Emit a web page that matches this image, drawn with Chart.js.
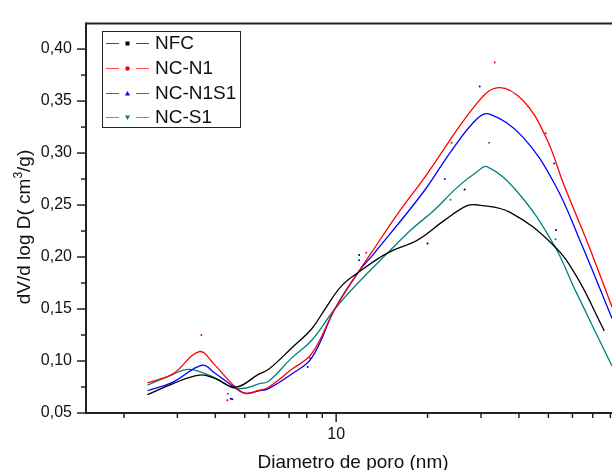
<!DOCTYPE html>
<html><head><meta charset="utf-8">
<script src="https://cdn.jsdelivr.net/npm/chart.js@4/dist/chart.umd.min.js"></script>
<style>html,body{margin:0;padding:0;background:#fff;overflow:hidden}#wrap{width:616px;height:470px;position:relative}</style>
</head><body><div id="wrap"><canvas id="c" width="616" height="470"></canvas></div>
<script>
// ---- data (pore diameter in nm, dV/dlogD in cm3/g) ----
const seriesNames = ['NFC', 'NC-N1', 'NC-N1S1', 'NC-S1'];
const seriesColors = ['#000000', '#ff0000', '#0000ff', '#008080'];

const nfcX = [2.39, 2.89, 3.54, 4.0, 4.67, 5.56, 5.99, 7.14, 8.31, 9.19, 10.40, 11.80, 14.79, 18.53, 22.66, 27.0, 29.49, 37.4, 51.84, 61.78, 76.4];
const nfcY = [0.0676, 0.078, 0.0865, 0.083, 0.0748, 0.0874, 0.092, 0.1126, 0.131, 0.150, 0.172, 0.185, 0.204, 0.2163, 0.235, 0.2494, 0.250, 0.243, 0.2116, 0.1818, 0.129];

const n1X = [2.39, 2.89, 3.54, 3.96, 4.54, 5.01, 5.56, 5.99, 7.14, 8.31, 9.90, 11.80, 13.05, 15.94, 19.49, 29.11, 34.28, 41.4, 49.3, 56.15, 67.45, 81.0];
const n1Y = [0.079, 0.0874, 0.109, 0.097, 0.078, 0.069, 0.0717, 0.0748, 0.092, 0.107, 0.150, 0.185, 0.204, 0.2415, 0.276, 0.348, 0.363, 0.350, 0.314, 0.270, 0.213, 0.152];

const n1s1X = [2.39, 2.89, 3.62, 3.96, 4.54, 5.01, 5.56, 5.99, 7.14, 8.31, 9.90, 11.80, 13.38, 19.49, 23.81, 29.11, 32.04, 41.0, 52.48, 64.15, 81.0];
const n1s1Y = [0.0714, 0.0795, 0.096, 0.089, 0.0764, 0.069, 0.0712, 0.0735, 0.0875, 0.103, 0.150, 0.185, 0.204, 0.2635, 0.301, 0.333, 0.3375, 0.316, 0.270, 0.213, 0.141];

const s1X = [2.39, 2.89, 3.28, 3.96, 4.54, 5.0, 5.56, 5.99, 7.14, 8.31, 9.90, 11.80, 14.79, 17.62, 21.02, 25.04, 29.11, 31.39, 39.3, 51.84, 61.78, 81.0];
const s1Y = [0.0767, 0.087, 0.092, 0.0843, 0.0745, 0.0738, 0.078, 0.0805, 0.103, 0.120, 0.150, 0.175, 0.204, 0.226, 0.245, 0.267, 0.282, 0.287, 0.2635, 0.213, 0.166, 0.0953];

// raw measurement dots (faint)
const nfcDotX = [4.5, 11.9, 20.0, 26.5, 53.0];
const nfcDotY = [0.0638, 0.202, 0.213, 0.265, 0.226];
const n1DotX = [3.6, 4.38, 8.2, 12.56, 24.0, 33.3, 49.0];
const n1DotY = [0.125, 0.0623, 0.103, 0.204, 0.310, 0.387, 0.319];
const n1s1DotX = [4.55, 8.06, 11.9, 22.8, 29.7, 52.2];
const n1s1DotY = [0.0632, 0.0943, 0.197, 0.275, 0.364, 0.290];
const s1DotX = [4.4, 23.8, 31.9, 52.8];
const s1DotY = [0.0686, 0.255, 0.310, 0.217];

const yMajorTicks = [0.05, 0.10, 0.15, 0.20, 0.25, 0.30, 0.35, 0.40];
const yMinorTicks = [0.075, 0.125, 0.175, 0.225, 0.275, 0.325, 0.375];
const xMajorTicks = [10];
const xMinorTicks = [2, 3, 4, 5, 6, 7, 8, 9, 20, 30, 40, 50, 60, 70, 80];

const xTitle = 'Diametro de poro (nm)';
const yTitleParts = ['dV/d log D( cm', '3', '/g)'];

const curves = [[nfcX, nfcY], [n1X, n1Y], [n1s1X, n1s1Y], [s1X, s1Y]];
const dots = [[nfcDotX, nfcDotY], [n1DotX, n1DotY], [n1s1DotX, n1s1DotY], [s1DotX, s1DotY]];
const zip = (xs, ys) => xs.map((x, i) => ({x, y: ys[i]}));

const datasets = [];
curves.forEach((c, i) => datasets.push({
  type: 'line', label: seriesNames[i], data: zip(c[0], c[1]),
  borderColor: seriesColors[i], borderWidth: 1.3, pointRadius: 0,
  tension: 0.4, fill: false
}));
dots.forEach((d, i) => datasets.push({
  type: 'scatter', label: seriesNames[i] + ' pts', data: zip(d[0], d[1]),
  backgroundColor: seriesColors[i], borderWidth: 0, pointRadius: 1, showLine: false
}));

const FONT = '"Liberation Sans", Arial, sans-serif';
const AX = '#222222';

const decor = {
  id: 'decor',
  afterDraw(chart) {
    const ctx = chart.ctx, a = chart.chartArea, xs = chart.scales.x, ys = chart.scales.y;
    ctx.save();
    ctx.strokeStyle = AX;
    const seg = (x1, y1, x2, y2) => { ctx.beginPath(); ctx.moveTo(x1, y1); ctx.lineTo(x2, y2); ctx.stroke(); };
    // axes & top frame
    ctx.lineWidth = 2;
    seg(a.left, a.top, a.right, a.top);
    seg(a.left, a.top - 1, a.left, a.bottom + 1);
    seg(a.left - 1, a.bottom, a.right, a.bottom);
    // ticks
    ctx.lineWidth = 1.5;
    yMajorTicks.forEach(v => { const p = ys.getPixelForValue(v); seg(a.left - 9, p, a.left, p); });
    yMinorTicks.forEach(v => { const p = ys.getPixelForValue(v); if (p >= a.top) seg(a.left - 5, p, a.left, p); });
    xMajorTicks.forEach(v => { const p = xs.getPixelForValue(v); seg(p, a.bottom, p, a.bottom + 9); });
    xMinorTicks.forEach(v => { const p = xs.getPixelForValue(v); if (p >= a.left && p <= a.right) seg(p, a.bottom, p, a.bottom + 5); });
    // axis titles
    ctx.fillStyle = '#111';
    ctx.font = '19px ' + FONT;
    ctx.textAlign = 'center'; ctx.textBaseline = 'alphabetic';
    ctx.fillText(xTitle, 353, 468);
    ctx.save();
    ctx.translate(30, 227); ctx.rotate(-Math.PI / 2);
    ctx.textAlign = 'left';
    ctx.font = '19px ' + FONT; const w1 = ctx.measureText(yTitleParts[0]).width;
    const w3 = ctx.measureText(yTitleParts[2]).width;
    ctx.font = '12px ' + FONT; const w2 = ctx.measureText(yTitleParts[1]).width;
    let x0 = -(w1 + w2 + w3) / 2;
    ctx.font = '19px ' + FONT; ctx.fillText(yTitleParts[0], x0, 0);
    ctx.font = '12px ' + FONT; ctx.fillText(yTitleParts[1], x0 + w1, -8);
    ctx.font = '19px ' + FONT; ctx.fillText(yTitleParts[2], x0 + w1 + w2, 0);
    ctx.restore();
    // legend
    ctx.lineWidth = 1; ctx.strokeStyle = '#222';
    ctx.strokeRect(102.5, 31.5, 138, 96);
    const rows = [43, 68, 93, 117];
    ctx.font = '19px ' + FONT; ctx.textAlign = 'left'; ctx.textBaseline = 'middle';
    seriesNames.forEach((n, i) => {
      const y = rows[i] + 0.5, col = seriesColors[i];
      ctx.globalAlpha = 0.7;
      ctx.strokeStyle = col; ctx.lineWidth = 1;
      seg(106, y, 119, y); seg(136, y, 149, y);
      ctx.globalAlpha = 1;
      ctx.fillStyle = col;
      ctx.beginPath();
      if (i === 0) { ctx.rect(125.5, y - 2, 4, 4); }
      else if (i === 1) { ctx.arc(127.5, y, 2.2, 0, Math.PI * 2); }
      else if (i === 2) { ctx.moveTo(127.5, y - 2.5); ctx.lineTo(130, y + 2); ctx.lineTo(125, y + 2); ctx.closePath(); }
      else { ctx.moveTo(127.5, y + 2.5); ctx.lineTo(130, y - 2); ctx.lineTo(125, y - 2); ctx.closePath(); }
      ctx.fill();
      ctx.fillStyle = '#111';
      ctx.fillText(n, 155, rows[i] + 1);
    });
    ctx.restore();
  }
};

new Chart(document.getElementById('c'), {
  data: { datasets },
  options: {
    responsive: false, animation: false, devicePixelRatio: 1,
    layout: { padding: { top: 16, right: 0, left: 0, bottom: 0 } },
    plugins: { legend: { display: false }, tooltip: { enabled: false } },
    scales: {
      x: {
        type: 'logarithmic', min: 1.5, max: 81,
        grid: { display: false, drawTicks: false, tickLength: 0 },
        border: { display: false },
        afterFit: s => { s.height = 57; },
        afterBuildTicks: s => { s.ticks = xMajorTicks.map(v => ({value: v})); },
        ticks: { color: '#111', font: { family: FONT, size: 16 }, padding: 12, maxRotation: 0, autoSkip: false,
          callback: v => String(v) }
      },
      y: {
        type: 'linear', min: 0.05, max: 0.4245,
        grid: { display: false, drawTicks: false, tickLength: 0 },
        border: { display: false },
        afterFit: s => { s.width = 86; },
        afterBuildTicks: s => { s.ticks = yMajorTicks.map(v => ({value: v})); },
        ticks: { color: '#111', font: { family: FONT, size: 16 }, padding: 14,
          callback: v => Number(v).toFixed(2).replace('.', ',') }
      }
    }
  },
  plugins: [decor]
});
</script></body></html>
